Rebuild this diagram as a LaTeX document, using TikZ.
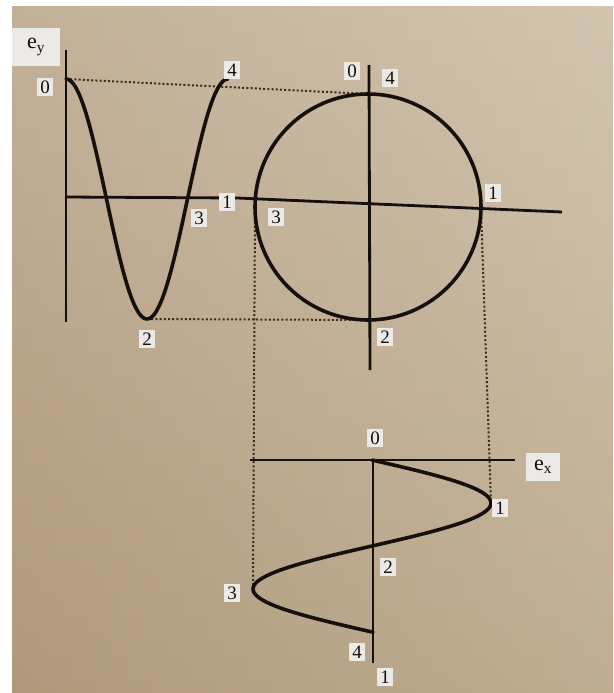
\documentclass[tikz,border=0pt]{standalone}
\usepackage{fontspec}
\setmainfont{Liberation Serif}
\begin{document}
\begin{tikzpicture}[x=1pt,y=-1pt,
  ink/.style={draw={rgb,255:red,22;green,16;blue,12}},
  axis/.style={ink,line width=2.8pt},
  curve/.style={ink,line width=3.6pt,line cap=round,line join=round},
  guide/.style={draw={rgb,255:red,60;green,42;blue,30},line width=2pt,dash pattern=on 2pt off 2.2pt},
  lbl/.style={fill={rgb,255:red,236;green,234;blue,230},inner xsep=3pt,inner ysep=3pt,
    font=\fontsize{19}{21}\selectfont,text={rgb,255:red,22;green,16;blue,12}}
]
\useasboundingbox (0,0) rectangle (613,693);
% background
\fill[white] (0,0) rectangle (613,693);
\shade[top color={rgb,255:red,214;green,199;blue,178},bottom color={rgb,255:red,188;green,168;blue,138}] (12,7) rectangle (613,693);
\shade[left color={rgb,255:red,140;green,110;blue,80},right color={rgb,255:red,200;green,190;blue,170},fill opacity=0.25] (12,7) rectangle (613,693);

% key coordinates
\coordinate (cc) at (368,207);
\coordinate (ctop) at (368,94);
\coordinate (cbot) at (368,320);
\coordinate (cleft) at (255,205);
\coordinate (cright) at (481,209);
\coordinate (w0) at (66,79);
\coordinate (wmin) at (147,319);
\coordinate (s3) at (253,590.5);
\coordinate (s1) at (491,503.5);

% dotted guides
\draw[guide] (w0) -- (ctop);
\draw[guide] (wmin) -- (cbot);
\draw[guide] (cleft) -- (s3);
\draw[guide] (cright) -- (s1);

% left plot axes
\coordinate (lv1) at (66,50);
\coordinate (lv2) at (66,322);
\coordinate (lh1) at (65,197);
\coordinate (lh2) at (237,198);
\coordinate (ch2) at (562,212);
\draw[axis] (lv1) -- (lv2);
\draw[axis] (lh1) -- (lh2) -- (ch2);

% circle and its vertical axis
\coordinate (cv1) at (369,65);
\coordinate (cv2) at (370,370);
\draw[axis] (cv1) -- (cv2);
\draw[curve] (cc) circle[radius=113];

% cosine curve
\draw[curve] plot[domain=0:1,samples=90,smooth] ({66+162*\x},{199-120*cos(360*\x)});

% lower plot axes
\coordinate (bh1) at (250,460);
\coordinate (bh2) at (515,460);
\coordinate (bv1) at (373,460);
\coordinate (bv2) at (373,663);
\draw[axis] (bh1) -- (bh2);
\draw[axis] (bv1) -- (bv2);

% lower sine curve
\draw[curve] plot[domain=0:1,samples=90,smooth] ({372+119*sin(360*\x)},{460+172*\x}) -- (373,632);

% labels
\node[lbl,minimum width=48pt,minimum height=38pt,font=\fontsize{22}{24}\selectfont] (ey) at (36,47) {e\textsubscript{y}};
\node[lbl] (l0a) at (45,87) {0};
\node[lbl] (l4a) at (232,70) {4};
\node[lbl] (l1a) at (227,202) {1};
\node[lbl] (l3a) at (199,218) {3};
\node[lbl] (l2a) at (147,339) {2};
\node[lbl] (l0b) at (352,71) {0};
\node[lbl] (l4b) at (390,78) {4};
\node[lbl] (l1b) at (493,193) {1};
\node[lbl] (l3b) at (276,217) {3};
\node[lbl] (l2b) at (385,337) {2};
\node[lbl] (l0c) at (375,438) {0};
\node[lbl,minimum width=34pt,minimum height=28pt,font=\fontsize{22}{24}\selectfont] (ex) at (543,467) {e\textsubscript{x}};
\node[lbl] (l1c) at (500,508) {1};
\node[lbl] (l2c) at (388,567) {2};
\node[lbl] (l3c) at (232,593) {3};
\node[lbl] (l4c) at (357,652) {4};
\node[lbl] (l1d) at (385,677) {1};
\end{tikzpicture}
\end{document}
